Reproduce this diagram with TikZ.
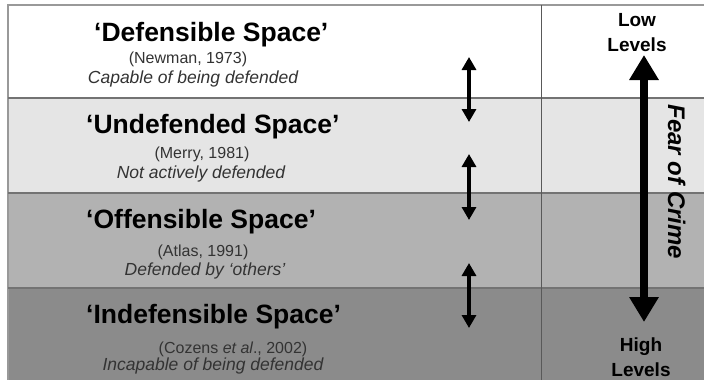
\documentclass[tikz,border=0pt]{standalone}
\usepackage{fontspec}
\setmainfont{Liberation Sans}
\usetikzlibrary{arrows.meta, positioning}

\definecolor{bandA}{gray}{1}
\definecolor{bandB}{gray}{0.90}
\definecolor{bandC}{gray}{0.70}
\definecolor{bandD}{gray}{0.545}
\definecolor{rulegray}{gray}{0.45}

\begin{document}
\begin{tikzpicture}[x=1pt, y=-1pt,
        spacetitle/.style={anchor=base west, inner sep=0pt, font=\fontsize{26.5}{30}\selectfont\bfseries},
        spaceref/.style={anchor=base, inner sep=0pt, text=black!80, font=\fontsize{16}{20}\selectfont},
        spacenote/.style={anchor=base, inner sep=0pt, text=black!80, font=\fontsize{17.5}{20}\selectfont\itshape},
        levels/.style={anchor=north, inner sep=0pt, align=center, font=\fontsize{19}{25}\selectfont\bfseries},
        twoway/.style={{Triangle[width=14pt,length=13pt]}-{Triangle[width=14pt,length=13pt]}, line width=3.2pt},
        fearline/.style={{Triangle[width=28pt,length=25pt]}-{Triangle[width=28pt,length=25pt]}, line width=8pt}]
        \useasboundingbox (0,0) rectangle (704,380);
        \fill[bandA] (8,5) rectangle (704,98);
        \fill[bandB] (8,98) rectangle (704,193);
        \fill[bandC] (8,193) rectangle (704,288);
        \fill[bandD] (8,288) rectangle (704,380);
        \draw[gray!80, line width=1.5pt] (8,380) -- (8,5) -- (704,5);
        \draw[rulegray, line width=1.2pt] (8,98) -- (704,98) (8,193) -- (704,193) (8,288) -- (704,288);
        \draw[black!65, line width=1pt] (541,5) -- (541,380);

        \node[spacetitle] (def) at (94,41) {‘Defensible Space’};
        \node[spaceref] (defref) at (188,63) {(Newman, 1973)};
        \node[spacenote] (defnote) at (193,83) {Capable of being defended};
        \node[spacetitle] (undef) at (86,133) {‘Undefended Space’};
        \node[spaceref] (undefref) at (202,158) {(Merry, 1981)};
        \node[spacenote] (undefnote) at (201,178) {Not actively defended};
        \node[spacetitle] (off) at (86,228) {‘Offensible Space’};
        \node[spaceref] (offref) at (203,256) {(Atlas, 1991)};
        \node[spacenote] (offnote) at (205,275) {Defended by ‘others’};
        \node[spacetitle] (indef) at (86,323) {‘Indefensible Space’};
        \node[spaceref] (indefref) at (233,353) {(Cozens \textit{et al}., 2002)};
        \node[spacenote] (indefnote) at (213,370) {Incapable of being defended};

        \node[levels] (low) at (637,13) {Low\\Levels};
        \node[levels] (high) at (641,338) {High\\Levels};
        \node[rotate=-90, anchor=base, inner sep=0pt, font=\fontsize{24}{28}\selectfont\bfseries\itshape] (fear) at (668,182) {Fear of Crime};

        \coordinate (a1) at (469,57);  \coordinate (b1) at (469,122);
        \coordinate (a2) at (469,154); \coordinate (b2) at (469,220);
        \coordinate (a3) at (469,263); \coordinate (b3) at (469,328);
        \coordinate (ftop) at (644,55); \coordinate (fbot) at (644,322);
        \draw[twoway] (a1) -- (b1);
        \draw[twoway] (a2) -- (b2);
        \draw[twoway] (a3) -- (b3);
        \draw[fearline] (ftop) -- (fbot);
    \end{tikzpicture}
\end{document}
